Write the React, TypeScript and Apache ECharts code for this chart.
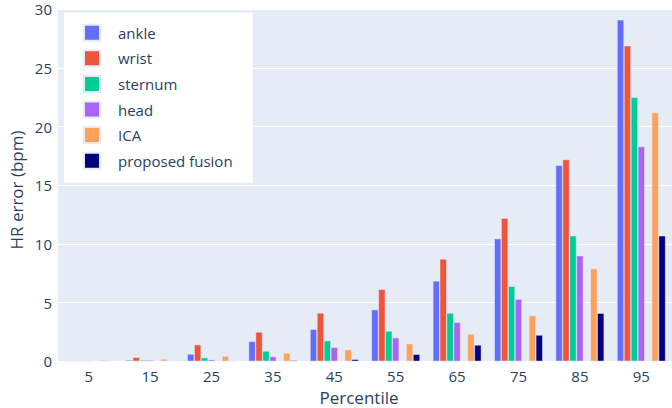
import React, { useEffect, useRef } from "react";
import * as echarts from "echarts";

const categories = ["5", "15", "25", "35", "45", "55", "65", "75", "85", "95"];
const ankle = [0.01, 0.11, 0.62, 1.7, 2.73, 4.4, 6.85, 10.45, 16.7, 29.1];
const wrist = [0.02, 0.34, 1.42, 2.5, 4.12, 6.14, 8.72, 12.2, 17.2, 26.9];
const sternum = [0.01, 0.11, 0.31, 0.88, 1.76, 2.58, 4.12, 6.4, 10.7, 22.5];
const head = [0.01, 0.11, 0.14, 0.4, 1.19, 2.01, 3.32, 5.3, 9.0, 18.3];
const emptySlot = [null, null, null, null, null, null, null, null, null, null];
const ica = [0.1, 0.2, 0.45, 0.71, 0.99, 1.5, 2.33, 3.9, 7.9, 21.2];
const fusion = [0.02, 0.03, 0.02, 0.08, 0.17, 0.6, 1.39, 2.24, 4.1, 10.7];

const seriesDefs = [
  { name: "ankle", data: ankle, color: "#636EFA" },
  { name: "wrist", data: wrist, color: "#EF553B" },
  { name: "sternum", data: sternum, color: "#00CC96" },
  { name: "head", data: head, color: "#AB63FA" },
  { name: "_empty", data: emptySlot, color: "#19D3F3" },
  { name: "ICA", data: ica, color: "#FFA15A" },
  { name: "proposed fusion", data: fusion, color: "#000080" },
];

const FONT = "Open Sans";
const TXT = "#2a3f5f";

export default function App() {
  const ref = useRef<HTMLDivElement>(null);
  useEffect(() => {
    if (!ref.current) return;
    const chart = echarts.init(ref.current, null, { renderer: "svg" });
    chart.setOption({
      animation: false,
      backgroundColor: "#ffffff",
      textStyle: { fontFamily: FONT, color: TXT },
      grid: { left: 58, right: 0, top: 9.3, bottom: 46.7, containLabel: false, backgroundColor: "#E5ECF6", show: true, borderWidth: 0 },
      legend: {
        data: seriesDefs.filter((s) => s.name !== "_empty").map((s) => s.name),
        orient: "vertical",
        left: 64,
        top: 12.7,
        backgroundColor: "#ffffff",
        padding: [11, 20, 13, 19],
        itemWidth: 16,
        itemHeight: 16,
        itemGap: 7.6,
        icon: "rect",
        textStyle: { fontFamily: FONT, fontSize: 15, lineHeight: 16, color: TXT, padding: [0, 0, 0, 13] },
      },
      xAxis: {
        type: "category",
        data: categories,
        axisLine: { show: false },
        axisTick: { show: false },
        splitLine: { show: false },
        axisLabel: { fontFamily: FONT, fontSize: 15, color: TXT, margin: 7 },
      },
      yAxis: {
        type: "value",
        min: 0,
        max: 30,
        interval: 5,
        axisLine: { show: false },
        axisTick: { show: false },
        splitLine: { show: true, lineStyle: { color: "#ffffff", width: 1 } },
        axisLabel: { fontFamily: FONT, fontSize: 15, color: TXT, margin: 6 },
      },
      graphic: [
        {
          type: "text",
          x: 16,
          y: 190,
          rotation: Math.PI / 2,
          style: { text: "HR error (bpm)", fontFamily: FONT, fontSize: 17, lineHeight: 18, fill: TXT, align: "center", verticalAlign: "middle" },
        },
        {
          type: "text",
          x: 359,
          y: 397,
          style: { text: "Percentile", fontFamily: FONT, fontSize: 17, lineHeight: 18, fill: TXT, align: "center", verticalAlign: "middle" },
        },
      ],
      series: seriesDefs.map((s) => ({
        name: s.name,
        type: "bar",
        data: s.data,
        barGap: "0%",
        barCategoryGap: "21%",
        itemStyle: { color: s.color, borderColor: "#E5ECF6", borderWidth: 0.5 },
      })),
    });
    return () => chart.dispose();
  }, []);
  return <div ref={ref} style={{ width: 672, height: 408, position: "absolute", left: 0, top: 0 }} />;
}
